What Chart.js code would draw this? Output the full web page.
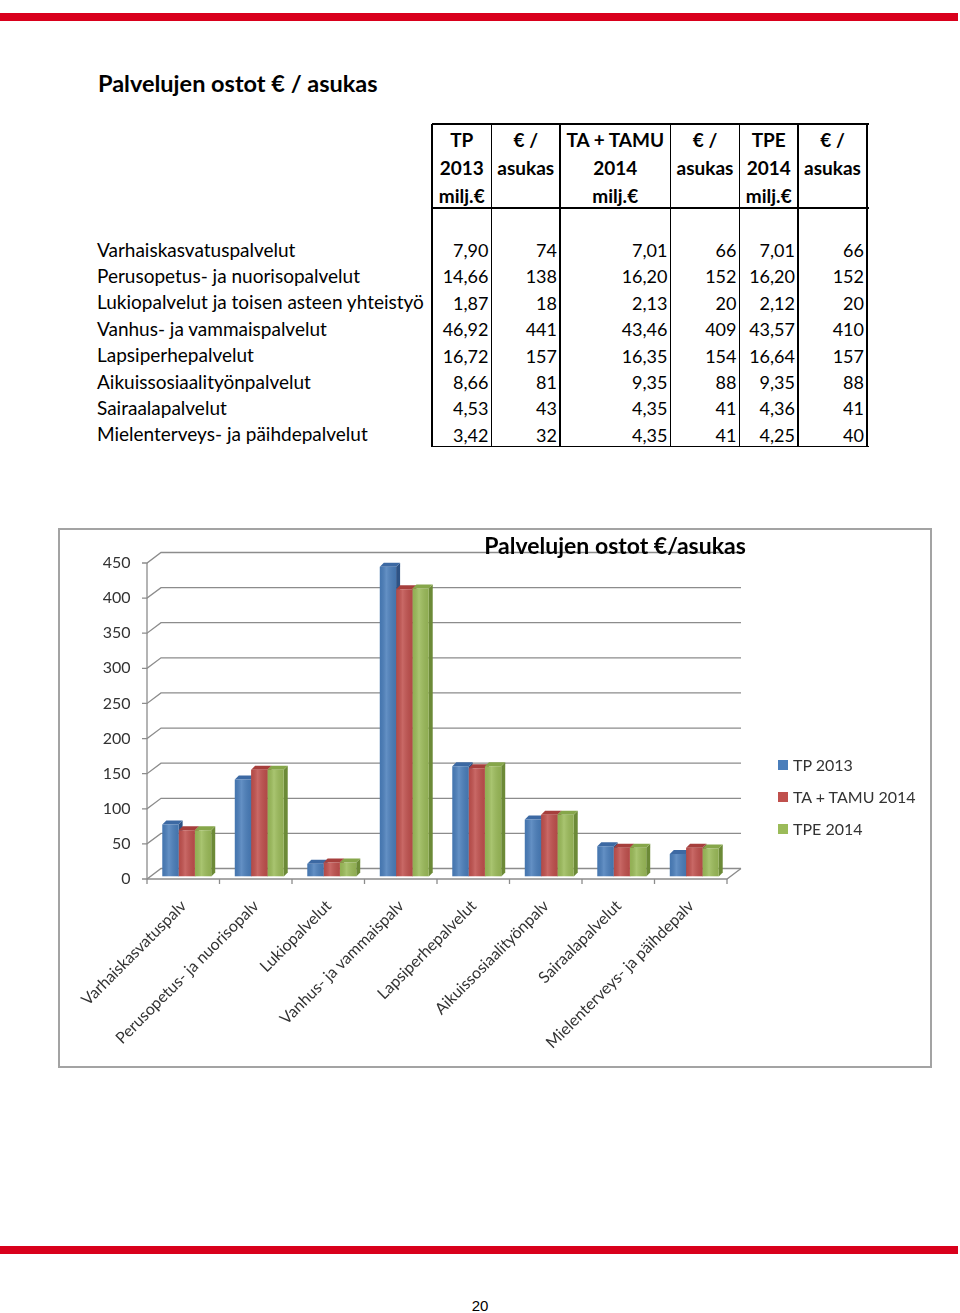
<!DOCTYPE html>
<html>
<head>
<meta charset="utf-8">
<script src="https://cdn.jsdelivr.net/npm/chart.js@4.4.1/dist/chart.umd.min.js"></script>
<style>
  html, body { margin: 0; padding: 0; background: #fff; }
  body { width: 960px; height: 1313px; position: relative; overflow: hidden; font-family: Lato, "Open Sans", "DejaVu Sans", sans-serif; color: #000; }
  .redbar { position: absolute; left: 0; width: 958px; height: 8px; background: #d9001c; }
  .abs { position: absolute; white-space: nowrap; }
  #pageTitle { left: 98px; top: 69px; font-size: 23.5px; font-weight: bold; }
  .hline { position: absolute; height: 1.5px; background: #000; }
  .vline { position: absolute; width: 1.5px; background: #000; }
  .cell { position: absolute; font-size: 18px; line-height: 20px; white-space: nowrap; }
  .lbl { font-size: 19px; }
  .hdr { position: absolute; font-size: 19px; font-weight: bold; line-height: 20px; text-align: center; }
  #chartBox { position: absolute; left: 58px; top: 528px; width: 870px; height: 536px; border: 2px solid #a3a3a3; background: #fff; }
  #chartTitle { position: absolute; left: 0; width: 1230px; top: 531px; text-align: center; font-size: 23px; font-weight: bold; }
  .leg { position: absolute; font-size: 16px; color: #333; line-height: 18px; }
  .legsq { position: absolute; width: 10px; height: 10px; }
  #pageNo { left: 0; width: 960px; text-align: center; top: 1297px; font-size: 15px; font-family: "Liberation Sans Narrow", "Liberation Sans", sans-serif; }
</style>
</head>
<body>
<div class="redbar" style="top:13px"></div>
<div class="redbar" style="top:1246px"></div>
<div id="pageTitle" class="abs">Palvelujen ostot € / asukas</div>
<div id="table"></div>
<div id="chartBox"><canvas id="c" width="870" height="536"></canvas></div>
<div id="chartTitle" class="abs">Palvelujen ostot €/asukas</div>
<div id="legend"></div>
<div id="pageNo" class="abs">20</div>

<script>
// ---------------- DATA ----------------
const categories = [
  "Varhaiskasvatuspalvelut",
  "Perusopetus- ja nuorisopalvelut",
  "Lukiopalvelut ja toisen asteen yhteistyö",
  "Vanhus- ja vammaispalvelut",
  "Lapsiperhepalvelut",
  "Aikuissosiaalityönpalvelut",
  "Sairaalapalvelut",
  "Mielenterveys- ja päihdepalvelut"
];
const chartLabels = [
  "Varhaiskasvatuspalv",
  "Perusopetus- ja nuorisopalv",
  "Lukiopalvelut",
  "Vanhus- ja vammaispalv",
  "Lapsiperhepalvelut",
  "Aikuissosiaalityönpalv",
  "Sairaalapalvelut",
  "Mielenterveys- ja päihdepalv"
];
const seriesNames = ["TP 2013", "TA + TAMU 2014", "TPE 2014"];
const tp2013Milj = [7.90, 14.66, 1.87, 46.92, 16.72, 8.66, 4.53, 3.42];
const tp2013PerResident = [74, 138, 18, 441, 157, 81, 43, 32];
const ta2014Milj = [7.01, 16.20, 2.13, 43.46, 16.35, 9.35, 4.35, 4.35];
const ta2014PerResident = [66, 152, 20, 409, 154, 88, 41, 41];
const tpe2014Milj = [7.01, 16.20, 2.12, 43.57, 16.64, 9.35, 4.36, 4.25];
const tpe2014PerResident = [66, 152, 20, 410, 157, 88, 41, 40];
const tableHeaders = [
  ["TP", "2013", "milj.€"],
  ["€ /", "asukas"],
  ["TA + TAMU", "2014", "milj.€"],
  ["€ /", "asukas"],
  ["TPE", "2014", "milj.€"],
  ["€ /", "asukas"]
];
const yMin = 0, yMax = 450, yStep = 50;

// ---------------- STYLE ----------------
const frontColors = ["#4a7ebb", "#c0504d", "#9bbb59"];
const sideColors  = ["#2e5385", "#8a3432", "#6c8a37"];
const topColors   = ["#3c69a3", "#a63f3c", "#86a64a"];

// ---------------- TABLE ----------------
(function buildTable() {
  const root = document.getElementById('table');
  const colX = [432, 491.5, 560, 670.5, 739.5, 798, 867];
  const top = 124, hdrBottom = 208, bottom = 446.5;
  const rowY = [250, 276.4, 302.8, 329.2, 355.6, 382, 408.4, 434.8];
  const add = (cls, style, text) => {
    const d = document.createElement('div');
    d.className = cls;
    Object.assign(d.style, style);
    if (text !== undefined) d.textContent = text;
    root.appendChild(d);
    return d;
  };
  add('hline', {left: colX[0] + 'px', top: (top - 0.75) + 'px', width: (colX[6] - colX[0] + 1.5) + 'px'});
  add('hline', {left: colX[0] + 'px', top: (hdrBottom - 0.75) + 'px', width: (colX[6] - colX[0] + 1.5) + 'px'});
  add('hline', {left: colX[0] + 'px', top: (bottom - 0.75) + 'px', width: (colX[6] - colX[0] + 1.5) + 'px'});
  colX.forEach(x => add('vline', {left: (x - 0.75) + 'px', top: top + 'px', height: (bottom - top) + 'px'}));
  tableHeaders.forEach((lines, c) => {
    lines.forEach((t, k) => {
      add('hdr', {left: colX[c] + 'px', width: (colX[c + 1] - colX[c]) + 'px', top: (140 + k * 28 - 10) + 'px'}, t);
    });
  });
  const fmt = v => v.toFixed(2).replace('.', ',');
  const cols = [tp2013Milj.map(fmt), tp2013PerResident.map(String), ta2014Milj.map(fmt), ta2014PerResident.map(String), tpe2014Milj.map(fmt), tpe2014PerResident.map(String)];
  categories.forEach((name, r) => {
    add('cell lbl', {left: '97px', top: (rowY[r] - 10.5) + 'px'}, name);
    cols.forEach((col, c) => {
      add('cell', {left: colX[c] + 'px', width: (colX[c + 1] - colX[c] - 3) + 'px', textAlign: 'right', top: (rowY[r] - 10) + 'px'}, col[r]);
    });
  });
})();

// ---------------- LEGEND ----------------
(function buildLegend() {
  const root = document.getElementById('legend');
  seriesNames.forEach((n, i) => {
    const y = 765 + i * 32;
    const sq = document.createElement('div');
    sq.className = 'legsq';
    Object.assign(sq.style, {left: '778px', top: (y - 5) + 'px', background: frontColors[i]});
    root.appendChild(sq);
    const t = document.createElement('div');
    t.className = 'leg';
    Object.assign(t.style, {left: '793px', top: (y - 9) + 'px'});
    t.textContent = n;
    root.appendChild(t);
  });
})();

// ---------------- CHART ----------------
const WALL_DX = 10.5, WALL_DY = -8;   // back wall offset
const FRONT_DX = -3.5, FRONT_DY = 2.5; // front edge offset
const BAR_D = 4;                       // bar depth

const threeD = {
  id: 'threeD',
  beforeDatasetsDraw(chart) {
    const ctx = chart.ctx, a = chart.chartArea, ys = chart.scales.y;
    ctx.save();
    ctx.strokeStyle = '#8c8c8c';
    ctx.lineWidth = 1.3;
    for (let v = yMin; v <= yMax; v += yStep) {
      const y = ys.getPixelForValue(v);
      ctx.beginPath();
      ctx.moveTo(a.left + FRONT_DX - 5, y + FRONT_DY);
      ctx.lineTo(a.left + FRONT_DX, y + FRONT_DY);
      ctx.lineTo(a.left + WALL_DX, y + WALL_DY);
      ctx.lineTo(a.right + WALL_DX, y + WALL_DY);
      ctx.stroke();
    }
    const yTop = ys.getPixelForValue(yMax), y0 = ys.getPixelForValue(yMin);
    ctx.beginPath();
    ctx.moveTo(a.left + FRONT_DX, yTop + FRONT_DY);
    ctx.lineTo(a.left + FRONT_DX, y0 + FRONT_DY);
    ctx.stroke();
    ctx.beginPath();
    ctx.moveTo(a.left + FRONT_DX, y0 + FRONT_DY);
    ctx.lineTo(a.right + FRONT_DX, y0 + FRONT_DY);
    ctx.lineTo(a.right + WALL_DX, y0 + WALL_DY);
    ctx.stroke();
    const n = chart.data.labels.length, w = (a.right - a.left) / n;
    for (let k = 0; k <= n; k++) {
      const x = a.left + FRONT_DX + k * w;
      ctx.beginPath();
      ctx.moveTo(x, y0 + FRONT_DY);
      ctx.lineTo(x, y0 + FRONT_DY + 5);
      ctx.stroke();
    }
    const metas = chart.data.datasets.map((d, i) => chart.getDatasetMeta(i));
    metas.forEach((meta, di) => {
      meta.data.forEach(bar => {
        const r = bar.x + bar.width / 2;
        ctx.fillStyle = sideColors[di];
        ctx.beginPath();
        ctx.moveTo(r, bar.y);
        ctx.lineTo(r + BAR_D, bar.y - BAR_D);
        ctx.lineTo(r + BAR_D, bar.base - BAR_D);
        ctx.lineTo(r, bar.base);
        ctx.closePath();
        ctx.fill();
      });
    });
    metas.forEach((meta, di) => {
      meta.data.forEach(bar => {
        const l = bar.x - bar.width / 2, r = bar.x + bar.width / 2;
        ctx.fillStyle = topColors[di];
        ctx.beginPath();
        ctx.moveTo(l, bar.y);
        ctx.lineTo(r, bar.y);
        ctx.lineTo(r + BAR_D, bar.y - BAR_D);
        ctx.lineTo(l + BAR_D, bar.y - BAR_D);
        ctx.closePath();
        ctx.fill();
      });
    });
    ctx.restore();
  },
  afterDatasetsDraw(chart) {
    const ctx = chart.ctx;
    ctx.save();
    chart.data.datasets.forEach((d, i) => {
      chart.getDatasetMeta(i).data.forEach(bar => {
        const l = bar.x - bar.width / 2, r = bar.x + bar.width / 2;
        const g = ctx.createLinearGradient(l, 0, r, 0);
        g.addColorStop(0, 'rgba(0,0,0,0.06)');
        g.addColorStop(0.4, 'rgba(255,255,255,0.14)');
        g.addColorStop(1, 'rgba(0,0,0,0.08)');
        ctx.fillStyle = g;
        ctx.fillRect(l, bar.y, r - l, bar.base - bar.y);
      });
    });
    ctx.restore();
  }
};

Chart.defaults.font.family = 'Lato, "Open Sans", sans-serif';

new Chart(document.getElementById('c'), {
  type: 'bar',
  data: {
    labels: chartLabels,
    datasets: [
      {label: seriesNames[0], data: tp2013PerResident, backgroundColor: frontColors[0]},
      {label: seriesNames[1], data: ta2014PerResident, backgroundColor: frontColors[1]},
      {label: seriesNames[2], data: tpe2014PerResident, backgroundColor: frontColors[2]}
    ]
  },
  options: {
    responsive: false,
    animation: false,
    devicePixelRatio: 1,
    layout: {padding: {left: 0, right: 199.5, top: 30.5, bottom: 0}},
    datasets: {bar: {categoryPercentage: 0.675, barPercentage: 1, borderWidth: 0}},
    plugins: {legend: {display: false}, tooltip: {enabled: false}, title: {display: false}},
    scales: {
      x: {
        grid: {display: false, drawTicks: false},
        border: {display: false},
        ticks: {autoSkip: false, maxRotation: 45, minRotation: 45, padding: 20, labelOffset: -3, color: '#333', font: {size: 16}},
        afterFit(s) { s.height = 189.5; }
      },
      y: {
        min: yMin, max: yMax,
        grid: {display: false, drawTicks: false},
        border: {display: false},
        ticks: {stepSize: yStep, padding: 20, labelOffset: 2.5, color: '#333', font: {size: 16}},
        afterFit(s) { s.width = 90.5; }
      }
    }
  },
  plugins: [threeD]
});
</script>
</body>
</html>
